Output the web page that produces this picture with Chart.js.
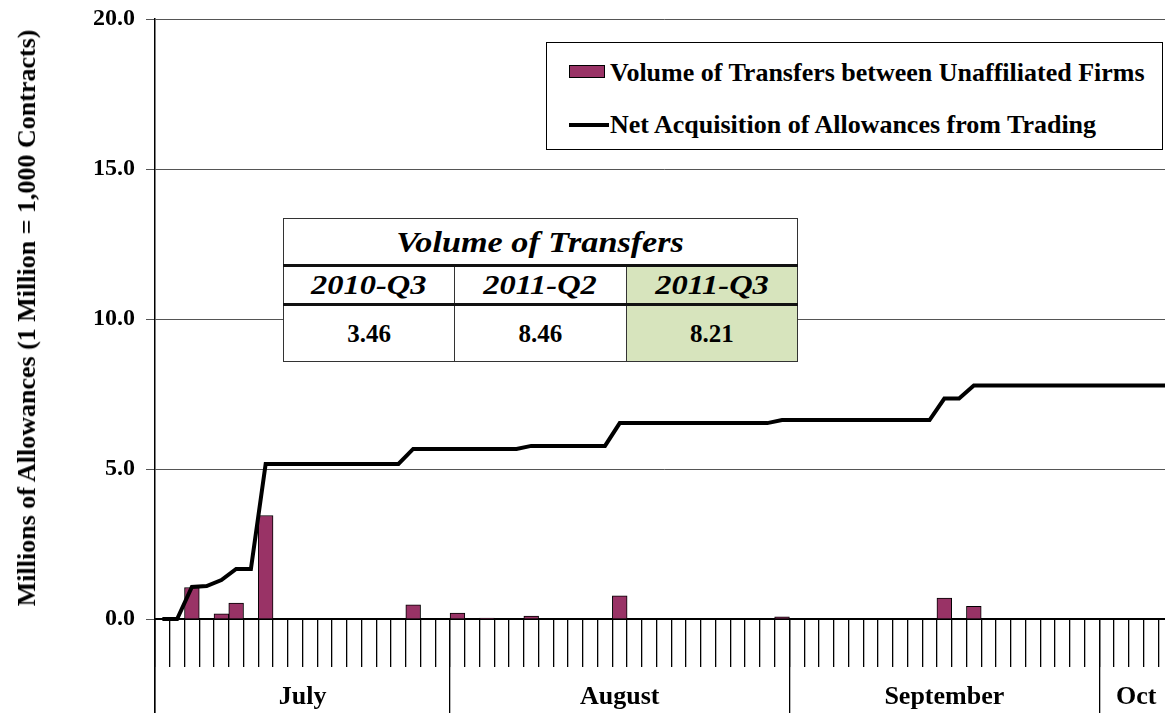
<!DOCTYPE html>
<html>
<head>
<meta charset="utf-8">
<script src="https://cdn.jsdelivr.net/npm/chart.js@4.4.1/dist/chart.umd.min.js"></script>
<style>
  html, body { margin: 0; padding: 0; background: #fff; overflow: hidden; }
  #wrap { position: relative; width: 1175px; height: 713px; font-family: 'Liberation Serif', 'Times New Roman', serif; font-weight: bold; color: #000; }
  #c { position: absolute; left: 0; top: 0; }
  #ytitle { position: absolute; left: 27px; top: 318px; transform: translate(-50%, -50%) rotate(-90deg); white-space: nowrap; font-size: 26px; }
  #legend { position: absolute; left: 546px; top: 42px; width: 617px; height: 108px; border: 1px solid #000; background: #fff; box-sizing: border-box; }
  #legend .txt { position: absolute; left: 63px; height: 30px; line-height: 30px; font-size: 26px; white-space: nowrap; }
  #legend .sw-bar { position: absolute; left: 22px; top: 22px; width: 36px; height: 13px; background: #993366; border: 1px solid #000; box-sizing: border-box; }
  #legend .sw-line { position: absolute; left: 22px; top: 80px; width: 40px; height: 4px; background: #000; }
  #qtable { position: absolute; left: 283px; top: 218px; width: 515px; height: 142px; border-collapse: collapse; background: #fff; table-layout: fixed; }
  #qtable td { border: 1.5px solid #333; text-align: center; padding: 0; white-space: nowrap; }
  #qtable .sx { display: inline-block; }
  #qtable .head td { height: 45px; font-size: 30px; font-style: italic; border-bottom: 3px solid #111; }
  #qtable .head .sx { transform: scaleX(1.14); }
  #qtable .per td { height: 36px; font-size: 28px; font-style: italic; border-bottom: 3px solid #111; }
  #qtable .per .sx { transform: scaleX(1.16); }
  #qtable .val td { height: 55px; font-size: 25px; }
  #qtable .cur { background: #d7e4bd; }
</style>
</head>
<body>
<div id="wrap">
  <canvas id="c" width="1175" height="713"></canvas>
  <div id="ytitle">Millions of Allowances (1 Million = 1,000 Contracts)</div>
  <div id="legend">
    <span class="sw-bar"></span>
    <div class="txt" style="top:15px">Volume of Transfers between Unaffiliated Firms</div>
    <span class="sw-line"></span>
    <div class="txt" style="top:67px">Net Acquisition of Allowances from Trading</div>
  </div>
  <table id="qtable">
    <tr class="head"><td colspan="3"><span class="sx">Volume of Transfers</span></td></tr>
    <tr class="per"><td><span class="sx">2010-Q3</span></td><td><span class="sx">2011-Q2</span></td><td class="cur"><span class="sx">2011-Q3</span></td></tr>
    <tr class="val"><td>3.46</td><td>8.46</td><td class="cur">8.21</td></tr>
  </table>
</div>
<script>
// trading days, Jul 1 - Oct 7 2011
const days = [
  '7/1', '7/5', '7/6', '7/7', '7/8', '7/11', '7/12', '7/13', '7/14', '7/15',
  '7/18', '7/19', '7/20', '7/21', '7/22', '7/25', '7/26', '7/27', '7/28', '7/29',
  '8/1', '8/2', '8/3', '8/4', '8/5', '8/8', '8/9', '8/10', '8/11', '8/12',
  '8/15', '8/16', '8/17', '8/18', '8/19', '8/22', '8/23', '8/24', '8/25', '8/26',
  '8/29', '8/30', '8/31',
  '9/1', '9/2', '9/6', '9/7', '9/8', '9/9', '9/12', '9/13', '9/14', '9/15',
  '9/16', '9/19', '9/20', '9/21', '9/22', '9/23', '9/26', '9/27', '9/28', '9/29',
  '9/30',
  '10/3', '10/4', '10/5', '10/6', '10/7'
];

// millions of allowances
const transfers = [
  0, 0, 1.05, 0, 0.17, 0.53, 0, 3.45, 0, 0, 0, 0, 0, 0, 0, 0, 0, 0.47, 0, 0,
  0.2, 0, 0.03, 0, 0, 0.1, 0, 0, 0, 0, 0, 0.77, 0, 0, 0, 0, 0, 0, 0, 0, 0, 0, 0.07,
  0, 0, 0, 0, 0, 0, 0, 0, 0, 0, 0.7, 0, 0.42, 0, 0, 0, 0, 0, 0, 0, 0,
  0, 0, 0, 0, 0
];

const netAcquisition = [
  0, 0, 1.07, 1.1, 1.3, 1.67, 1.67, 5.17, 5.17, 5.17, 5.17, 5.17, 5.17, 5.17, 5.17, 5.17, 5.17, 5.67, 5.67, 5.67,
  5.67, 5.67, 5.67, 5.67, 5.67, 5.77, 5.77, 5.77, 5.77, 5.77, 5.77, 6.53, 6.53, 6.53, 6.53, 6.53, 6.53, 6.53, 6.53, 6.53, 6.53, 6.53, 6.63,
  6.63, 6.63, 6.63, 6.63, 6.63, 6.63, 6.63, 6.63, 6.63, 6.63, 7.35, 7.35, 7.78, 7.78, 7.78, 7.78, 7.78, 7.78, 7.78, 7.78, 7.78,
  7.78, 7.78, 7.78, 7.78, 7.78
];

const months = ['July', 'August', 'September', 'Oct'];
const monthEdges = [0, 20, 43, 64, 69]; // category index where each month starts
const yTicks = [0, 5, 10, 15, 20];

const serif = "'Liberation Serif', 'Times New Roman', serif";
const monthMid = months.map((m, i) => (monthEdges[i] + monthEdges[i + 1]) / 2);

// labels padding would otherwise eat into the plot area
const noPad = (s) => { s.paddingTop = 0; s.paddingBottom = 0; s.paddingLeft = 0; s.paddingRight = 0; };

new Chart(document.getElementById('c'), {
  data: {
    labels: days,
    datasets: [
      {
        type: 'line',
        label: 'Net Acquisition of Allowances from Trading',
        data: netAcquisition,
        borderColor: '#000',
        borderWidth: 4,
        pointRadius: 0,
        tension: 0,
        fill: false,
        order: 0
      },
      {
        type: 'bar',
        label: 'Volume of Transfers between Unaffiliated Firms',
        data: transfers,
        backgroundColor: '#993366',
        borderColor: '#000',
        borderWidth: 1,
        barPercentage: 1,
        categoryPercentage: 1,
        order: 1
      }
    ]
  },
  options: {
    responsive: false,
    animation: false,
    devicePixelRatio: 1,
    layout: { padding: { top: 19, right: 2, left: 0, bottom: 0 } },
    plugins: { legend: { display: false }, tooltip: { enabled: false } },
    scales: {
      x: {
        type: 'category',
        position: { y: 0 },
        offset: true,
        afterFit: noPad,
        grid: { drawOnChartArea: false, offset: true, tickLength: 47, color: '#000', lineWidth: 1.3 },
        border: { display: true, color: '#000', width: 2 },
        ticks: { display: false, autoSkip: false }
      },
      xm: {
        type: 'linear',
        axis: 'x',
        position: { y: 0 },
        min: 0,
        max: days.length,
        afterBuildTicks: (s) => { s.ticks = monthEdges.map(v => ({ value: v })); },
        afterFit: noPad,
        grid: { drawOnChartArea: false, tickLength: 94, color: '#000', lineWidth: 1.3 },
        border: { display: false },
        ticks: { display: false, autoSkip: false }
      },
      xl: {
        type: 'linear',
        axis: 'x',
        position: { y: 0 },
        min: 0,
        max: days.length,
        afterBuildTicks: (s) => { s.ticks = monthMid.map(v => ({ value: v })); },
        afterFit: noPad,
        grid: { display: false },
        border: { display: false },
        ticks: {
          autoSkip: false,
          maxRotation: 0,
          padding: 55,
          color: '#000',
          font: { family: serif, size: 26, weight: 'bold' },
          callback: (v) => months[monthMid.indexOf(v)]
        }
      },
      y: {
        min: -3.133,
        max: 20,
        afterBuildTicks: (s) => { s.ticks = yTicks.map(v => ({ value: v })); },
        afterFit: (s) => { s.width = 155; noPad(s); },
        grid: { color: '#555', lineWidth: 1, tickLength: 9 },
        border: { color: '#000', width: 1.5 },
        ticks: {
          padding: 11,
          color: '#000',
          font: { family: serif, size: 24, weight: 'bold' },
          callback: (v) => v.toFixed(1)
        }
      }
    }
  }
});
</script>
</body>
</html>
